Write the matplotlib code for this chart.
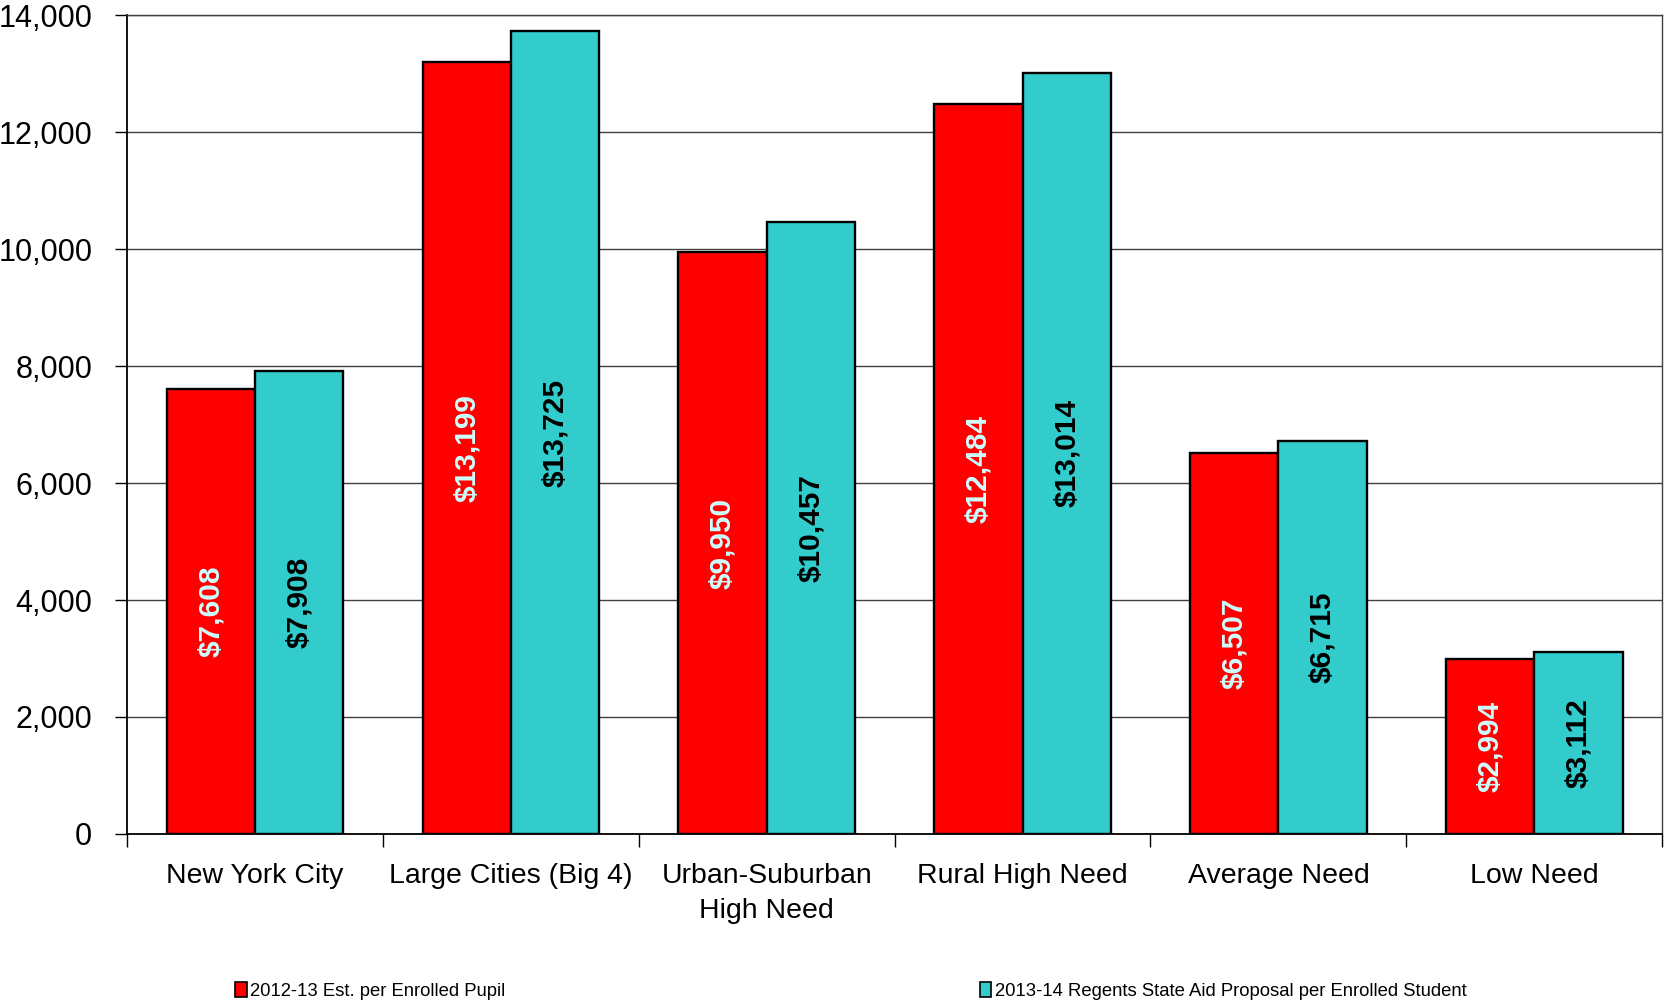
'''
State aid per pupil by need group - bar chart recreation
'''
#imports
import numpy as np
import matplotlib.pyplot as plt
from matplotlib.ticker import FuncFormatter, MultipleLocator
from matplotlib.patches import Patch

plt.rcParams['font.family'] = ['Liberation Sans', 'DejaVu Sans']

categories = ['New York City', 'Large Cities (Big 4)', 'Urban-Suburban\nHigh Need',
              'Rural High Need', 'Average Need', 'Low Need']
aid_2012 = [7608, 13199, 9950, 12484, 6507, 2994]
aid_2013 = [7908, 13725, 10457, 13014, 6715, 3112]
series_names = ['2012-13 Est. per Enrolled Pupil',
                '2013-14 Regents State Aid Proposal per Enrolled Student']

red = '#FF0000'
teal = '#33CCCC'

fig = plt.figure(figsize=(16.65, 10.06), dpi=100)
ax = fig.add_axes([0.0763, 0.171, 0.922, 0.814])

x = np.arange(len(categories))
w = 0.345
b1 = ax.bar(x - w/2, aid_2012, w, color=red, edgecolor='black', linewidth=1.7, zorder=3)
b2 = ax.bar(x + w/2, aid_2013, w, color=teal, edgecolor='black', linewidth=1.7, zorder=3)

fmt = lambda v: '${:,.0f}'.format(v)
ax.bar_label(b1, labels=[fmt(v) for v in aid_2012], label_type='center', rotation=90,
             color='#CCFFFF', fontsize=21.5, fontweight='bold')
ax.bar_label(b2, labels=[fmt(v) for v in aid_2013], label_type='center', rotation=90,
             color='black', fontsize=21.5, fontweight='bold')

ax.set_xlim(-0.5, len(categories) - 0.5)
ax.set_ylim(0, 14000)
ax.yaxis.set_major_locator(MultipleLocator(2000))
ax.yaxis.set_major_formatter(FuncFormatter(lambda v, p: '{:,.0f}'.format(v)))
ax.grid(axis='y', color='#404040', linewidth=1, zorder=0)

ax.set_xticks(x)
ax.set_xticklabels(categories, fontsize=20.5, linespacing=1.45)
ax.set_xticks(np.arange(len(categories) + 1) - 0.5, minor=True)
ax.tick_params(axis='x', which='major', length=0, pad=21)
ax.tick_params(axis='x', which='minor', length=9, width=1, direction='out')
ax.tick_params(axis='y', labelsize=22, length=9, width=1, direction='out', pad=16)

for s in ['left', 'bottom']:
    ax.spines[s].set_linewidth(1.3)
    ax.spines[s].set_color('black')
for s in ['top', 'right']:
    ax.spines[s].set_linewidth(1)
    ax.spines[s].set_color('#404040')

# legend: two entries spread across the bottom
for name, col, xpos in [(series_names[0], red, 0.137), (series_names[1], teal, 0.584)]:
    fig.legend(handles=[Patch(facecolor=col, edgecolor='black', linewidth=1.2)], labels=[name],
               loc='center left', bbox_to_anchor=(xpos, 0.015), frameon=False, fontsize=13.3,
               handlelength=0.6, handleheight=0.9, handletextpad=0.2, borderaxespad=0)

fig.savefig('out.png', dpi=100)
